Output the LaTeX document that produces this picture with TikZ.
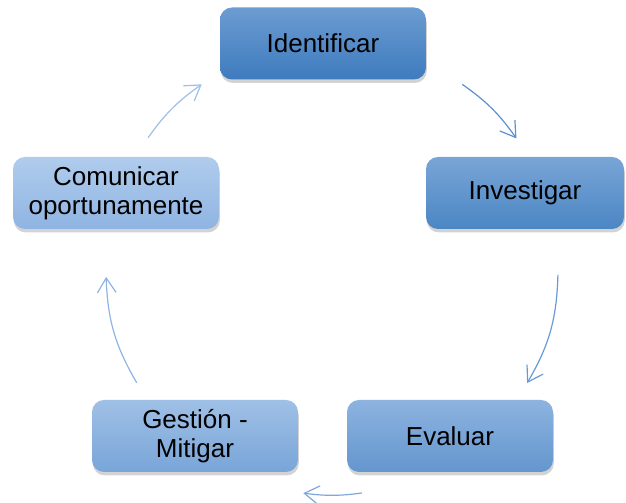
\documentclass[tikz,border=0pt]{standalone}
\usepackage{fontspec}
\setmainfont{Liberation Sans}
\usepackage{tikz}
\usetikzlibrary{arrows.meta, shadows}

\definecolor{identtop}{RGB}{108,156,209}
\definecolor{identbot}{RGB}{62,123,190}
\definecolor{investtop}{RGB}{121,165,214}
\definecolor{investbot}{RGB}{75,134,196}
\definecolor{evaltop}{RGB}{141,179,224}
\definecolor{evalbot}{RGB}{100,150,206}
\definecolor{gesttop}{RGB}{159,192,230}
\definecolor{gestbot}{RGB}{121,165,216}
\definecolor{comtop}{RGB}{176,204,237}
\definecolor{combot}{RGB}{143,180,226}
\definecolor{arrowa}{RGB}{91,143,206}
\definecolor{arrowb}{RGB}{106,154,214}
\definecolor{arrowc}{RGB}{126,168,220}
\definecolor{arrowd}{RGB}{143,180,226}
\definecolor{arrowe}{RGB}{159,191,230}

\tikzset{
    stagebox/.style={draw=none, rounded corners=9pt, minimum height=54pt,
        minimum width=154.5pt, align=center, text=black,
        font=\fontsize{19.5}{22}\selectfont,
        drop shadow={opacity=0.35, shadow xshift=0.6pt, shadow yshift=-2.6pt}},
    flow/.style={line width=0.9pt,
        -{Straight Barb[length=11pt, width=14pt, line width=0.9pt]}},
}

\begin{document}
\begin{tikzpicture}[x=0.75pt, y=0.75pt]
    \useasboundingbox (0,0) rectangle (626,503);
    \def\ring{226}
    \coordinate (ctr) at (332,234);

    % stages
    \node[stagebox, top color=identtop, bottom color=identbot] (ident) at (323,459.5) {Identificar};
    \node[stagebox, top color=investtop, bottom color=investbot, minimum width=148.5pt] (invest) at (525,310) {Investigar};
    \node[stagebox, top color=evaltop, bottom color=evalbot] (eval) at (450,67) {Evaluar};
    \node[stagebox, top color=gesttop, bottom color=gestbot] (gest) at (195,67) {Gesti\'on -\\Mitigar};
    \node[stagebox, top color=comtop, bottom color=combot] (comun) at (116,310) {Comunicar\\oportunamente};

    % arrow ends on the ring
    \foreach \n/\a in {s1/54.8, e1/35.3, s2/-1.5, e2/-30.3, s3/-82.4,
        e3/-97.3, s4/210.2, e4/182, s5/144.5, e5/125.2}
    {
        \path (ctr) ++(\a:\ring) coordinate (\n);
    }

    % arrows
    \foreach \from/\to/\bend/\col in {s1/e1/9.75/arrowa, s2/e2/14.4/arrowb,
        s3/e3/7.45/arrowc, s4/e4/14.1/arrowd, s5/e5/9.65/arrowe}
    {
        \draw[flow, \col] (\from) to[bend left=\bend] (\to);
    }
\end{tikzpicture}
\end{document}
